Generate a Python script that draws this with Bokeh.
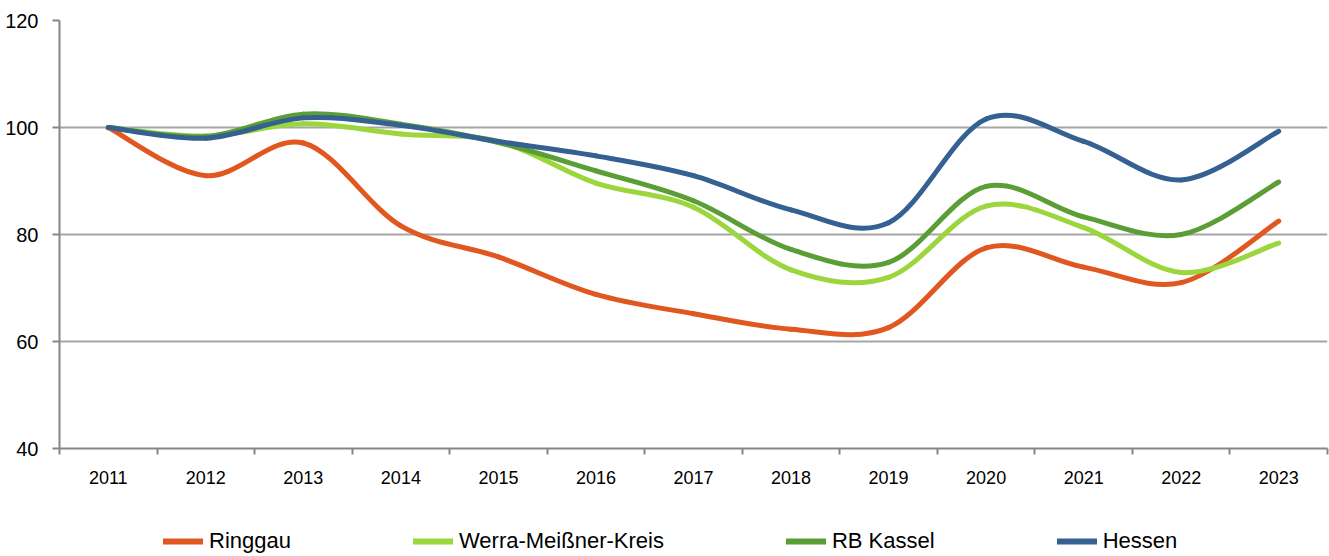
from bokeh.plotting import figure
from bokeh.layouts import column
from bokeh.models import Range1d, FixedTicker, Legend, LegendItem
from bokeh.embed import file_html
from bokeh.resources import INLINE

years = ["2011", "2012", "2013", "2014", "2015", "2016", "2017",
         "2018", "2019", "2020", "2021", "2022", "2023"]
ringgau = [100, 91.0, 97.1, 81.6, 75.8, 68.8, 65.2, 62.3, 62.6, 77.5, 73.9, 71.0, 82.5]
werra = [100, 98.4, 100.7, 98.8, 97.4, 89.6, 85.1, 73.4, 72.0, 85.3, 81.3, 72.9, 78.4]
rb_kassel = [100, 98.3, 102.5, 100.6, 97.2, 91.9, 86.3, 77.2, 74.8, 89.0, 83.3, 80.0, 89.8]
hessen = [100, 98.0, 101.8, 100.4, 97.4, 94.7, 91.0, 84.6, 82.2, 101.6, 97.4, 90.2, 99.3]

series = [
    ("Ringgau", ringgau, "#E0571F"),
    ("Werra-Meißner-Kreis", werra, "#9BD63D"),
    ("RB Kassel", rb_kassel, "#5B9E36"),
    ("Hessen", hessen, "#346092"),
]

FONT = "Liberation Sans"

p = figure(width=1329, height=492, output_backend="svg", toolbar_location=None,
           x_range=Range1d(0, 13), y_range=Range1d(40, 120),
           min_border_left=59, min_border_right=2, min_border_top=20,
           min_border_bottom=44)
p.outline_line_color = None
p.background_fill_color = "white"

# axes
p.yaxis.ticker = FixedTicker(ticks=[40, 60, 80, 100, 120])
p.yaxis.major_tick_out = 7
p.yaxis.major_tick_in = 0
p.yaxis.minor_tick_line_color = None
p.yaxis.axis_line_color = "#868686"
p.yaxis.axis_line_width = 2
p.yaxis.major_tick_line_color = "#868686"
p.yaxis.major_tick_line_width = 2
p.yaxis.major_label_text_font = FONT
p.yaxis.major_label_text_font_size = "20px"
p.yaxis.major_label_text_color = "black"
p.yaxis.major_label_standoff = 14

centers = [i + 0.5 for i in range(len(years))]
p.xaxis.ticker = FixedTicker(ticks=centers, minor_ticks=list(range(len(years) + 1)))
p.xaxis.major_label_overrides = {c: y for c, y in zip(centers, years)}
p.xaxis.major_tick_line_color = None
p.xaxis.minor_tick_out = 6
p.xaxis.minor_tick_in = 0
p.xaxis.minor_tick_line_color = "#868686"
p.xaxis.minor_tick_line_width = 2
p.xaxis.axis_line_color = "#868686"
p.xaxis.axis_line_width = 2
p.xaxis.major_label_text_font = FONT
p.xaxis.major_label_text_font_size = "18px"
p.xaxis.major_label_text_color = "black"
p.xaxis.major_label_standoff = 16

p.xgrid.visible = False
p.ygrid.ticker = FixedTicker(ticks=[60, 80, 100, 120])
p.ygrid.grid_line_color = "#A6A6A6"
p.ygrid.grid_line_width = 2


def bezier_parts(xs, ys):
    n = len(xs)
    x0, y0, x1, y1, cx0, cy0, cx1, cy1 = [], [], [], [], [], [], [], []
    for i in range(n - 1):
        pxm = xs[i - 1] if i > 0 else xs[i]
        pym = ys[i - 1] if i > 0 else ys[i]
        pxp = xs[i + 2] if i + 2 < n else xs[i + 1]
        pyp = ys[i + 2] if i + 2 < n else ys[i + 1]
        x0.append(xs[i]); y0.append(ys[i])
        x1.append(xs[i + 1]); y1.append(ys[i + 1])
        cx0.append(xs[i] + (xs[i + 1] - pxm) / 6.0)
        cy0.append(ys[i] + (ys[i + 1] - pym) / 6.0)
        cx1.append(xs[i + 1] - (pxp - xs[i]) / 6.0)
        cy1.append(ys[i + 1] - (pyp - ys[i]) / 6.0)
    return dict(x0=x0, y0=y0, x1=x1, y1=y1, cx0=cx0, cy0=cy0, cx1=cx1, cy1=cy1)


# legend figure below the chart
lf = figure(width=1329, height=64, output_backend="svg", toolbar_location=None,
            x_range=Range1d(0, 1), y_range=Range1d(0, 1),
            min_border_left=0, min_border_right=0, min_border_top=0,
            min_border_bottom=0)
lf.axis.visible = False
lf.grid.visible = False
lf.outline_line_color = None

nan = float("nan")
items = []
for name, vals, color in series:
    d = bezier_parts(centers, vals)
    p.bezier(x0=d["x0"], y0=d["y0"], x1=d["x1"], y1=d["y1"],
             cx0=d["cx0"], cy0=d["cy0"], cx1=d["cx1"], cy1=d["cy1"],
             line_color=color, line_width=5, line_cap="round")
    leg = lf.line(x=[nan, nan], y=[nan, nan], line_color=color, line_width=6,
                  line_cap="round")
    items.append(LegendItem(label=name, renderers=[leg]))

legend = Legend(items=items, orientation="horizontal", location=(104, 2),
                glyph_width=40, glyph_height=20, label_standoff=6, spacing=122,
                padding=0, margin=0, border_line_color=None,
                background_fill_alpha=0,
                label_text_font=FONT, label_text_font_size="22px",
                label_text_color="black")
lf.add_layout(legend, "center")

layout = column(p, lf, spacing=0)
open("out.html", "w").write(file_html(layout, INLINE))
